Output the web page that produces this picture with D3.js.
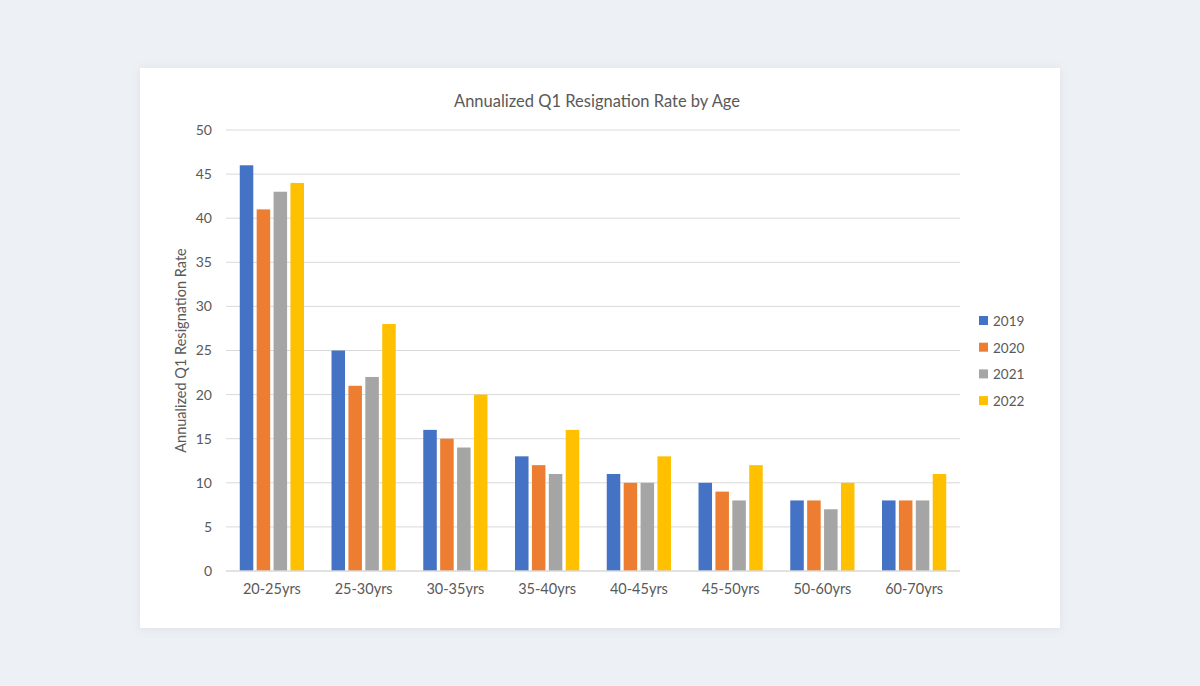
<!DOCTYPE html>
<html>
<head>
<meta charset="utf-8">
<script src="https://cdn.jsdelivr.net/npm/d3@7"></script>
<style>
  body { margin: 0; background: #edf0f4; }
  svg { display: block; }
  text { font-family: Lato, "Open Sans", sans-serif; fill: #595959; }
</style>
</head>
<body>
<div id="chart"></div>
<script>
// chart data
var ages = ["20-25yrs", "25-30yrs", "30-35yrs", "35-40yrs", "40-45yrs", "45-50yrs", "50-60yrs", "60-70yrs"];
var years = ["2019", "2020", "2021", "2022"];
var colors = ["#4472c4", "#ed7d31", "#a5a5a5", "#ffc000"];
var rate2019 = [46, 25, 16, 13, 11, 10, 8, 8];
var rate2020 = [41, 21, 15, 12, 10, 9, 8, 8];
var rate2021 = [43, 22, 14, 11, 10, 8, 7, 8];
var rate2022 = [44, 28, 20, 16, 13, 12, 10, 11];
var yTicks = [0, 5, 10, 15, 20, 25, 30, 35, 40, 45, 50];

var series = [rate2019, rate2020, rate2021, rate2022];

var W = 1200, H = 686;
var margin = {top: 130, right: 240, bottom: 115, left: 226};

var svg = d3.select("#chart").append("svg")
    .attr("width", W)
    .attr("height", H);

// soft shadow for the card
var defs = svg.append("defs");
var f = defs.append("filter").attr("id", "shadow")
    .attr("x", "-5%").attr("y", "-5%").attr("width", "110%").attr("height", "110%");
f.append("feDropShadow").attr("dx", 0).attr("dy", 1).attr("stdDeviation", 4)
    .attr("flood-color", "#8a96a8").attr("flood-opacity", 0.18);

svg.append("rect")
    .attr("x", 140).attr("y", 68)
    .attr("width", 920).attr("height", 560)
    .attr("fill", "#fff")
    .attr("filter", "url(#shadow)");

var x0 = d3.scaleBand()
    .domain(ages)
    .range([margin.left, W - margin.right])
    .paddingInner(0.3)
    .paddingOuter(0.15);

var x1 = d3.scaleBand()
    .domain(years)
    .range([0, x0.bandwidth()])
    .paddingInner(0.2);

var y = d3.scaleLinear()
    .domain([0, 50])
    .range([H - margin.bottom, margin.top]);

// gridlines
svg.append("g")
    .selectAll("line")
    .data(yTicks.slice(1))
    .enter().append("line")
    .attr("x1", margin.left)
    .attr("x2", W - margin.right)
    .attr("y1", function(d) { return y(d); })
    .attr("y2", function(d) { return y(d); })
    .attr("stroke", "#d9d9d9")
    .attr("stroke-width", 1);

// y axis labels
var yAxis = d3.axisLeft(y).tickValues(yTicks).tickSize(0).tickPadding(14);
svg.append("g")
    .attr("transform", "translate(" + margin.left + ",0)")
    .call(yAxis)
    .call(function(g) { g.select(".domain").remove(); })
    .selectAll("text")
    .style("font-size", "14px")
    .attr("fill", "#595959");

// bars
svg.append("g")
    .selectAll("g")
    .data(ages)
    .enter().append("g")
    .attr("transform", function(d) { return "translate(" + x0(d) + ",0)"; })
    .selectAll("rect")
    .data(function(d, i) {
        return years.map(function(yr, j) { return {year: yr, value: series[j][i], color: colors[j]}; });
    })
    .enter().append("rect")
    .attr("x", function(d) { return x1(d.year); })
    .attr("y", function(d) { return y(d.value); })
    .attr("width", x1.bandwidth())
    .attr("height", function(d) { return y(0) - y(d.value); })
    .attr("fill", function(d) { return d.color; });

// x axis
var xAxis = d3.axisBottom(x0).tickSize(0).tickPadding(13);
var gx = svg.append("g")
    .attr("transform", "translate(0," + y(0) + ")")
    .call(xAxis);
gx.select(".domain").remove();
gx.append("line")
    .attr("x1", margin.left).attr("x2", W - margin.right)
    .attr("stroke", "#d9d9d9").attr("stroke-width", 1.5);
gx.selectAll("text")
    .style("font-size", "14.5px")
    .attr("fill", "#595959");

// title
svg.append("text")
    .attr("x", 597)
    .attr("y", 107)
    .attr("text-anchor", "middle")
    .style("font-size", "16.5px")
    .text("Annualized Q1 Resignation Rate by Age");

// y axis title
svg.append("text")
    .attr("transform", "translate(186," + ((y(0) + y(50)) / 2) + ") rotate(-90)")
    .attr("text-anchor", "middle")
    .style("font-size", "14.5px")
    .text("Annualized Q1 Resignation Rate");

// legend
var legend = svg.append("g")
    .selectAll("g")
    .data(years)
    .enter().append("g")
    .attr("transform", function(d, i) { return "translate(979," + (321 + i * 26.7) + ")"; });
legend.append("rect")
    .attr("x", 0).attr("y", -5)
    .attr("width", 9).attr("height", 9)
    .attr("fill", function(d, i) { return colors[i]; });
legend.append("text")
    .attr("x", 14)
    .attr("y", 5)
    .style("font-size", "13.5px")
    .text(function(d) { return d; });
</script>
</body>
</html>
